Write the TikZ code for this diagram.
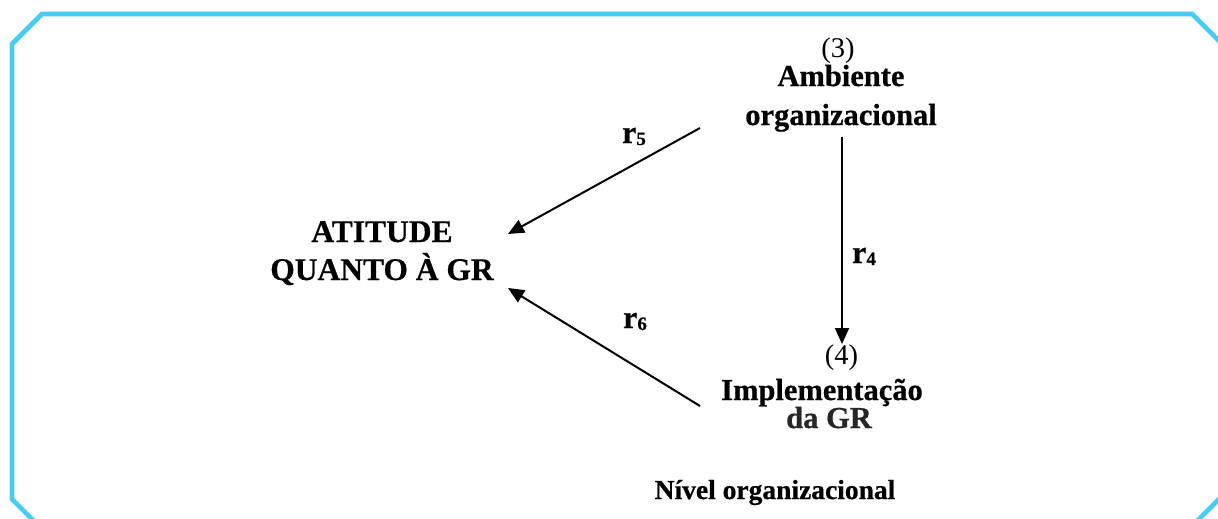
\documentclass[tikz,border=0pt]{standalone}
\usepackage{fontspec}
\setmainfont{Liberation Serif}[BoldFeatures={FakeBold=0.6}]
\usetikzlibrary{arrows.meta}
\definecolor{frameblue}{RGB}{70,204,245}
\tikzset{
  lbl/.style={anchor=base, inner sep=0pt, font=\fontsize{30.5}{30.5}\selectfont\bfseries},
  lblbig/.style={anchor=base, inner sep=0pt, font=\fontsize{31.5}{31.5}\selectfont\bfseries},
  lblsmall/.style={anchor=base, inner sep=0pt, font=\fontsize{27.5}{27.5}\selectfont\bfseries},
  num/.style={anchor=base, inner sep=0pt, font=\fontsize{28.5}{28.5}\selectfont},
  rlab/.style={anchor=base west, inner sep=0pt},
  conn/.style={line width=2pt, -{Triangle[length=16pt,width=14pt]}},
  frame/.style={draw=frameblue, line width=4.6pt, line join=miter}
}
\newcommand{\rsub}[1]{{\fontsize{32}{32}\selectfont\bfseries r}\raisebox{-2pt}{\fontsize{19}{19}\selectfont\bfseries #1}}
\begin{document}
\begin{tikzpicture}[x=1pt,y=-1pt]
\useasboundingbox (0,0) rectangle (1218,519);
\clip (0,0) rectangle (1218,519);
\fill[white] (0,0) rectangle (1218,519);
% frame
\draw[frame] (12,44) -- (42,14) -- (1192,14) -- (1222,44) -- (1222,496) -- (1192,526) -- (39,526) -- (12,499) -- cycle;
% texts
\node[num] (n3) at (838,57.5) {(3)};
\node[lbl] (amb) at (841,86) {Ambiente};
\node[lbl] (org) at (841,125) {organizacional};
\node[lblbig] (att1) at (382,242) {ATITUDE};
\node[lblbig] (att2) at (382,280) {QUANTO À GR};
\node[num] (n4) at (841.5,364) {(4)};
\node[lbl] (imp) at (822,400) {Implementação};
\node[lbl, text=black!85] (dagr) at (829,428) {da GR};
\node[lblsmall] (niv) at (775,499) {Nível organizacional};
% labels
\node[rlab] (r5) at (622,143) {\rsub{5}};
\node[rlab] (r4) at (852,263) {\rsub{4}};
\node[rlab] (r6) at (623,328) {\rsub{6}};
% connector ends
\coordinate (s5) at (700,128);
\coordinate (t5) at (508,234);
\coordinate (s6) at (700,406);
\coordinate (t6) at (508,288);
\coordinate (s4) at (842,137);
\coordinate (t4) at (842,344);
\draw[conn] (s5) -- (t5);
\draw[conn] (s6) -- (t6);
\draw[conn] (s4) -- (t4);
\end{tikzpicture}
\end{document}
